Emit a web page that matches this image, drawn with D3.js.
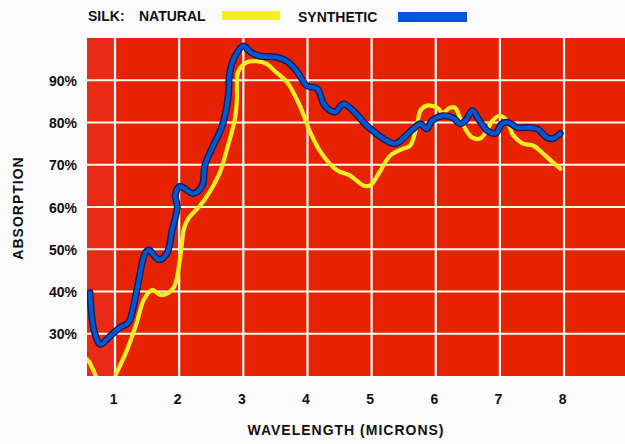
<!DOCTYPE html>
<html>
<head>
<meta charset="utf-8">
<script src="https://cdn.jsdelivr.net/npm/d3@7"></script>
<style>
  html, body { margin: 0; padding: 0; background: #fbfbfb; }
  svg { display: block; }
  text { font-family: "Liberation Sans", Arial, sans-serif; font-weight: bold; fill: #111; }
</style>
</head>
<body>
<svg id="chart" width="625" height="444"></svg>
<script>
// ---- data ----
const xTicks = [1, 2, 3, 4, 5, 6, 7, 8];
const yTicks = [30, 40, 50, 60, 70, 80, 90];
const yTickLabels = ["30%", "40%", "50%", "60%", "70%", "80%", "90%"];
const seriesNames = ["NATURAL", "SYNTHETIC"];

// Natural silk (yellow): wavelength, absorption %
const naturalW = [0.56, 0.59, 0.67, 0.8, 0.95, 1.03, 1.19, 1.34, 1.45, 1.58, 1.69, 1.78, 1.92, 2.01, 2.08, 2.15, 2.33, 2.48, 2.64, 2.76, 2.87, 2.9, 2.9, 2.92, 3.06, 3.21, 3.37, 3.5, 3.68, 3.88, 4.04, 4.2, 4.46, 4.66, 4.87, 4.98, 5.13, 5.29, 5.49, 5.6, 5.71, 5.76, 5.86, 6.02, 6.11, 6.22, 6.3, 6.38, 6.46, 6.57, 6.69, 6.8, 6.88, 7.0, 7.11, 7.21, 7.36, 7.52, 7.67, 7.83, 7.94];
const naturalV = [24.0, 23.5, 21.1, 17.0, 18.5, 20.9, 26.3, 32.7, 38.1, 40.4, 39.3, 39.3, 41.1, 47.5, 55.2, 57.4, 60.4, 63.7, 68.4, 74.5, 80.9, 85.6, 88.7, 92.0, 94.3, 94.5, 93.8, 92.0, 89.6, 84.0, 77.8, 73.1, 68.7, 67.5, 65.1, 65.1, 68.4, 72.2, 73.8, 74.5, 79.7, 82.8, 84.0, 83.5, 82.3, 83.5, 83.5, 81.1, 78.5, 76.4, 76.2, 78.1, 80.4, 81.6, 80.4, 76.9, 75.0, 74.5, 72.7, 70.5, 69.1];

// Synthetic silk (blue)
const syntheticW = [0.61, 0.67, 0.77, 0.92, 1.08, 1.21, 1.34, 1.47, 1.53, 1.68, 1.81, 1.89, 1.97, 1.94, 2.01, 2.22, 2.36, 2.4, 2.53, 2.67, 2.76, 2.79, 2.87, 3.0, 3.11, 3.26, 3.5, 3.68, 3.84, 3.99, 4.15, 4.27, 4.43, 4.56, 4.71, 4.93, 5.18, 5.37, 5.52, 5.65, 5.76, 5.86, 5.94, 6.11, 6.27, 6.38, 6.46, 6.57, 6.66, 6.8, 6.93, 7.03, 7.13, 7.27, 7.44, 7.58, 7.74, 7.83, 7.94];
const syntheticV = [39.7, 31.0, 27.5, 29.4, 31.5, 32.7, 40.4, 49.1, 49.8, 47.5, 49.1, 54.5, 60.0, 62.8, 64.9, 63.2, 65.1, 69.8, 74.5, 79.2, 85.6, 92.0, 95.7, 98.1, 96.7, 95.7, 95.5, 94.5, 92.0, 88.7, 88.0, 84.0, 82.5, 84.4, 82.8, 79.2, 76.2, 75.0, 76.7, 78.5, 79.7, 78.5, 80.4, 81.6, 81.1, 79.7, 80.4, 82.8, 80.9, 78.1, 77.4, 79.7, 80.0, 78.8, 78.8, 78.5, 76.4, 76.2, 77.4];

// ---- layout ----
const svg = d3.select("#chart");
const pL = 87, pR = 625, pT = 38, pB = 376;

const x = d3.scaleLinear().domain([0.563, 8.95]).range([pL, pR]);
const y = d3.scaleLinear().domain([20, 100]).range([pB, pT]);

svg.append("defs").append("clipPath").attr("id", "clip")
  .append("rect").attr("x", pL).attr("y", pT).attr("width", pR - pL).attr("height", pB - pT);

// background
svg.append("rect").attr("x", pL).attr("y", pT).attr("width", pR - pL).attr("height", pB - pT)
  .attr("fill", "#e72200");
svg.append("rect").attr("x", pL).attr("y", pT).attr("width", x(1) - pL).attr("height", pB - pT)
  .attr("fill", "#ea2a16");

// grid
const grid = svg.append("g");
grid.selectAll("line.v").data(xTicks).join("line").attr("class", "v")
  .attr("x1", d => x(d)).attr("x2", d => x(d)).attr("y1", pT).attr("y2", pB)
  .attr("stroke", "#ffffff").attr("stroke-width", 2.2);
grid.selectAll("line.h").data(yTicks).join("line").attr("class", "h")
  .attr("x1", pL).attr("x2", pR).attr("y1", d => y(d)).attr("y2", d => y(d))
  .attr("stroke", "#fffbe8").attr("stroke-width", 2.2);

// axes (labels only)
const xAxis = d3.axisBottom(x).tickValues(xTicks).tickSize(0).tickPadding(0).tickFormat(d3.format("d"));
const gx = svg.append("g").attr("transform", `translate(0,${pB})`).call(xAxis);
gx.select(".domain").remove();
gx.selectAll("text").attr("dy", null).attr("y", 28).attr("x", -2)
  .style("font-size", "14px").style("font-family", "Liberation Sans, Arial, sans-serif")
  .style("font-weight", "bold").attr("fill", "#111");

const yAxis = d3.axisLeft(y).tickValues(yTicks).tickSize(0).tickPadding(0)
  .tickFormat((d, i) => yTickLabels[i]);
const gy = svg.append("g").attr("transform", `translate(77,0)`).call(yAxis);
gy.select(".domain").remove();
gy.selectAll("text").attr("dy", "0.36em")
  .style("font-size", "14px").style("font-family", "Liberation Sans, Arial, sans-serif")
  .style("font-weight", "bold").attr("fill", "#111");

// lines
const natural = naturalW.map((w, i) => [w, naturalV[i]]);
const synthetic = syntheticW.map((w, i) => [w, syntheticV[i]]);
const line = d3.line().x(d => x(d[0])).y(d => y(d[1])).curve(d3.curveCatmullRom.alpha(0.5));

const lines = svg.append("g").attr("clip-path", "url(#clip)");
lines.append("path").attr("d", line(natural)).attr("fill", "none")
  .attr("stroke", "#f7ee1e").attr("stroke-width", 4.2).attr("stroke-linejoin", "round").attr("stroke-linecap", "round");
lines.append("path").attr("d", line(synthetic)).attr("fill", "none")
  .attr("stroke", "#0d1f5c").attr("stroke-width", 7).attr("stroke-linejoin", "round").attr("stroke-linecap", "round");
lines.append("path").attr("d", line(synthetic)).attr("fill", "none")
  .attr("stroke", "#0057d2").attr("stroke-width", 4.2).attr("stroke-linejoin", "round").attr("stroke-linecap", "round");

// titles
svg.append("text").attr("x", 346).attr("y", 435).attr("text-anchor", "middle")
  .style("font-size", "14px").style("letter-spacing", "1px").text("WAVELENGTH (MICRONS)");
svg.append("text").attr("transform", "translate(23,208) rotate(-90)").attr("text-anchor", "middle")
  .style("font-size", "14px").style("letter-spacing", "1px").text("ABSORPTION");

// legend
const lg = svg.append("g");
lg.append("text").attr("x", 88).attr("y", 21).style("font-size", "14px").text("SILK:");
lg.append("text").attr("x", 139).attr("y", 21).style("font-size", "14px").text(seriesNames[0]);
lg.append("rect").attr("x", 222).attr("y", 11).attr("width", 58).attr("height", 9).attr("fill", "#f7ee1e");
lg.append("text").attr("x", 298).attr("y", 22).style("font-size", "14px").text(seriesNames[1]);
lg.append("rect").attr("x", 398).attr("y", 12).attr("width", 69).attr("height", 10).attr("fill", "#0057d2");
</script>
</body>
</html>
